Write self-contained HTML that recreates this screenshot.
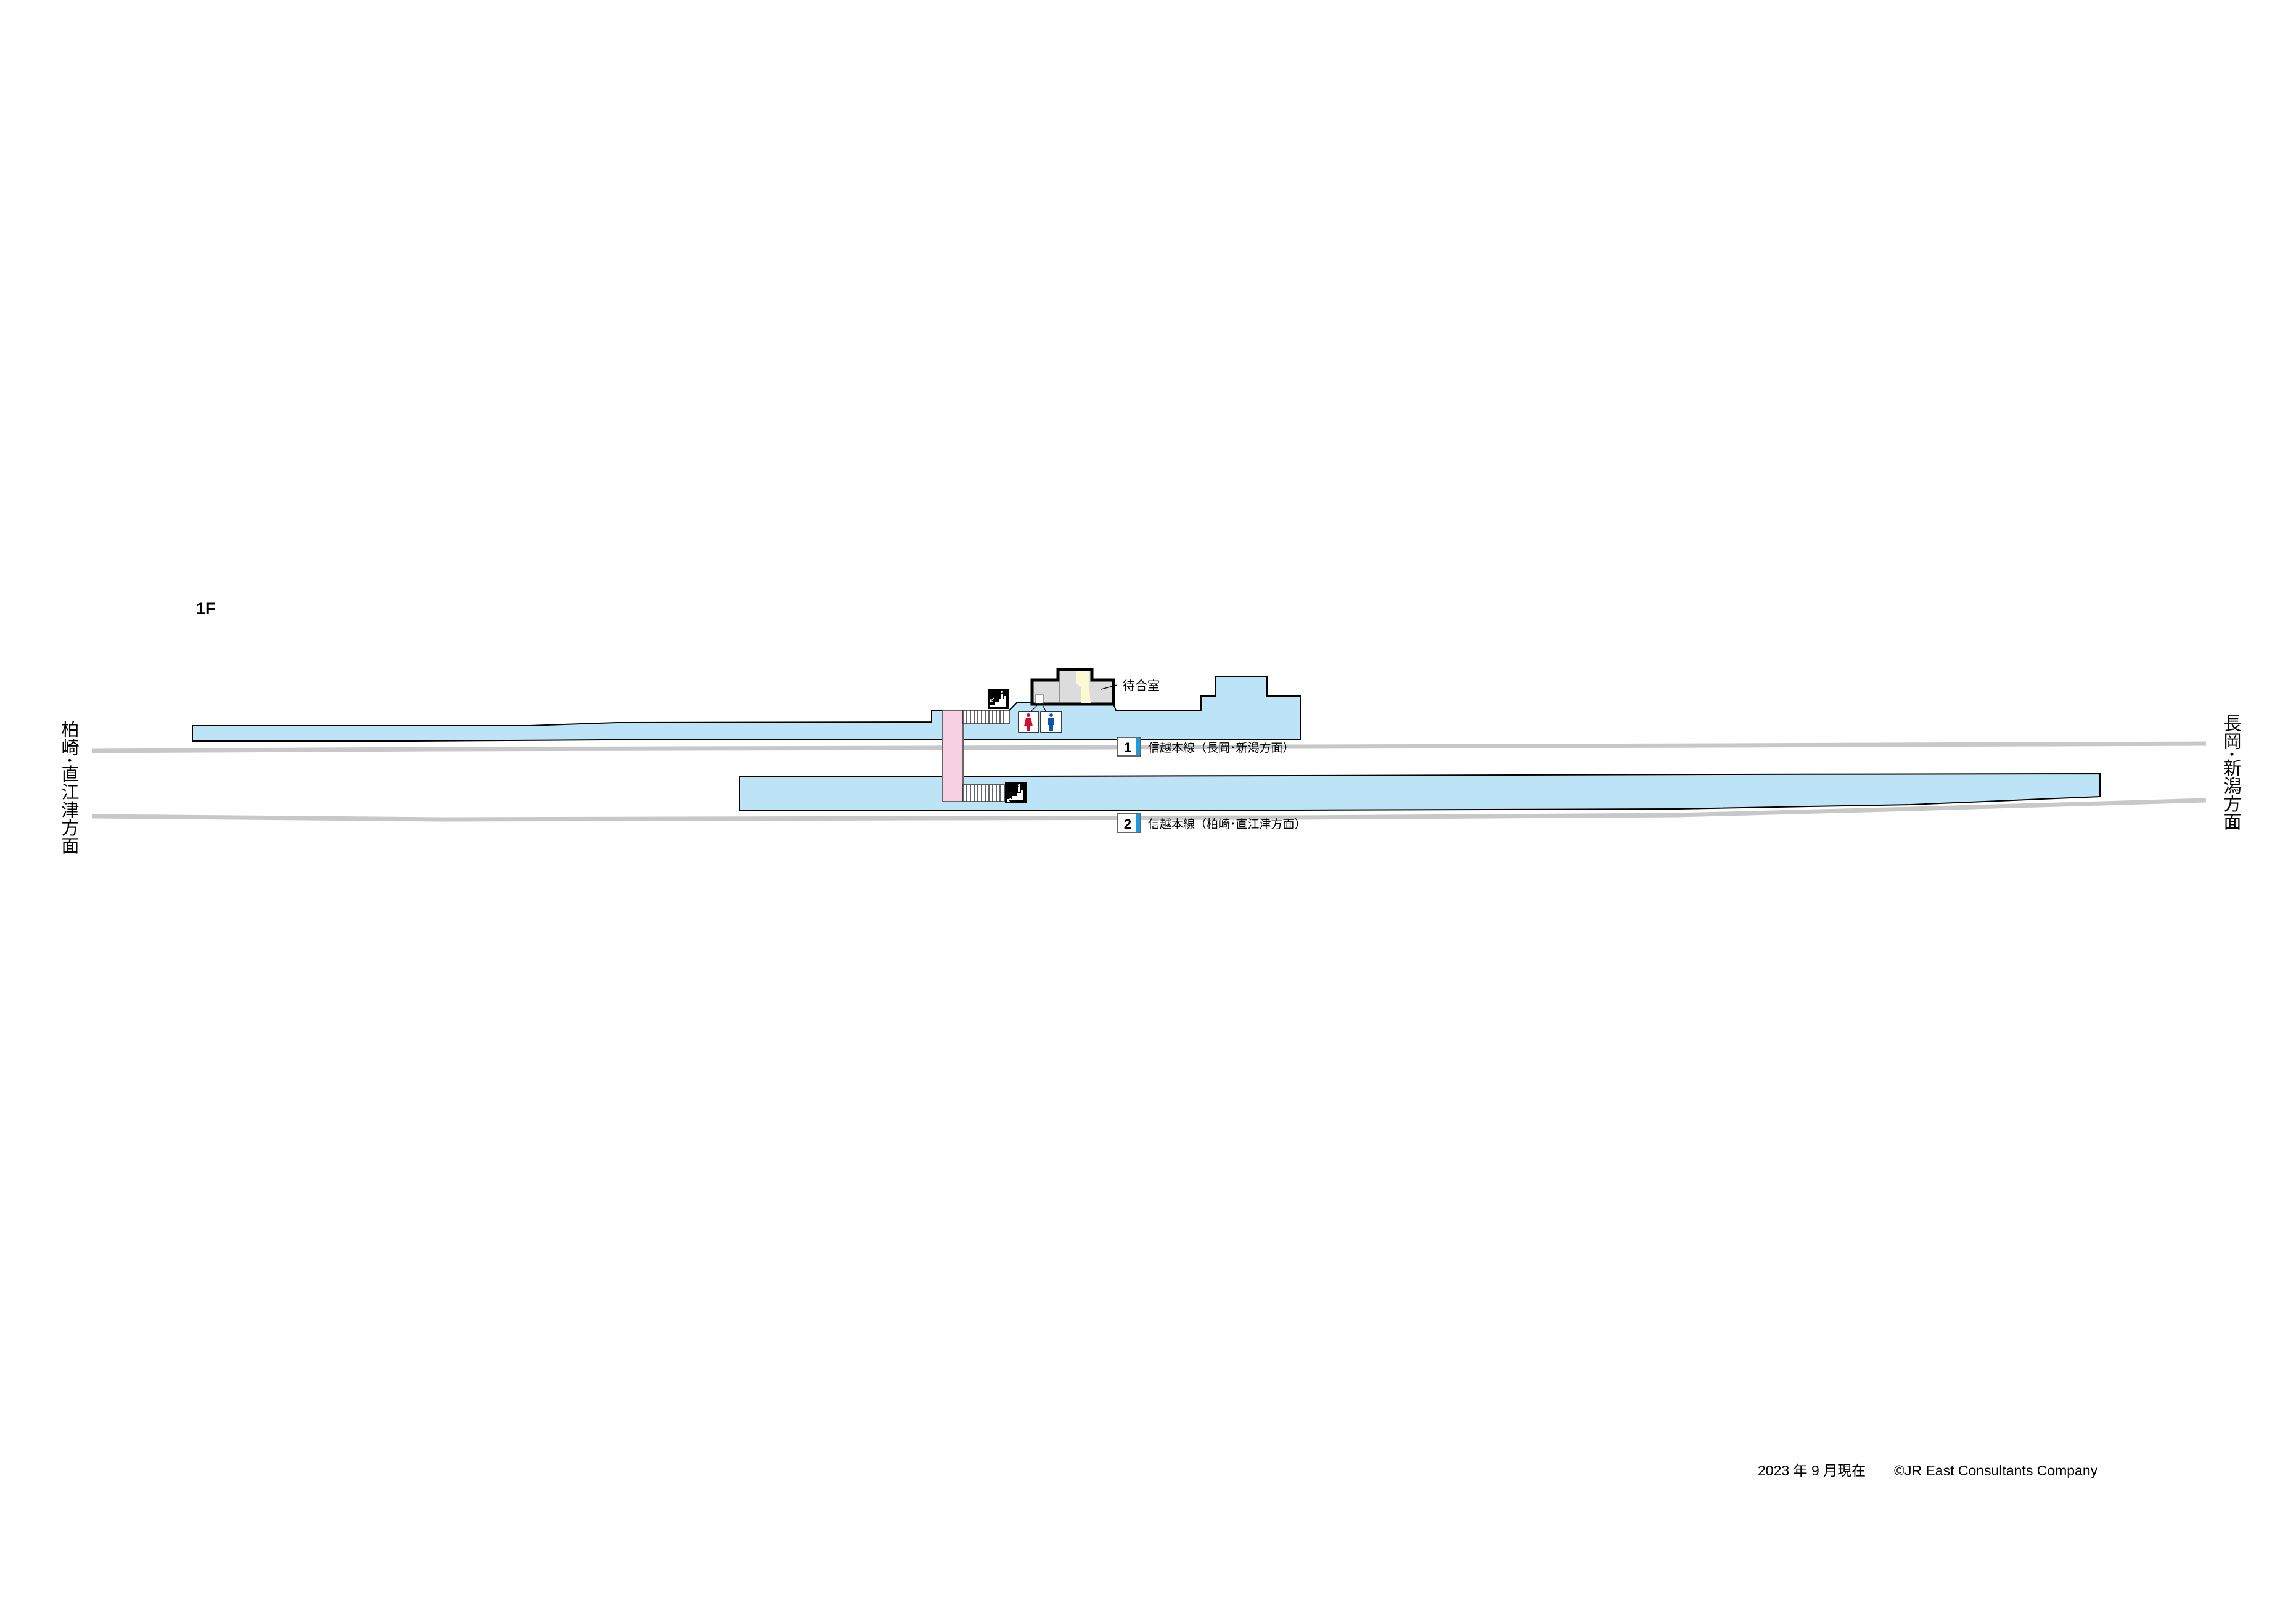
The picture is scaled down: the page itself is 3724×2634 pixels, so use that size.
<!DOCTYPE html>
<html><head><meta charset="utf-8"><style>
html,body{margin:0;padding:0;background:#fff;}
svg{display:block;}
text{font-family:"Liberation Sans","Noto Sans CJK JP",sans-serif;}
</style></head><body>
<svg width="3724" height="2634" viewBox="0 0 3724 2634" xmlns="http://www.w3.org/2000/svg">
<rect width="3724" height="2634" fill="#fff"/>
<!-- tracks -->
<polyline points="149,1218 700,1215 1500,1213 2100,1211 2800,1209 3578,1206" fill="none" stroke="#c8c8c8" stroke-width="7"/>
<polyline points="149,1324 717,1329 1500,1327 2100,1326 2721,1322 3100,1312 3578,1298" fill="none" stroke="#c8c8c8" stroke-width="7"/>
<!-- platform 1 -->
<path d="M312,1177 L859,1177 L1000,1172 L1511,1171 L1511,1152 L1637,1152 L1650,1139 L1806,1142 L1810,1152 L1948,1152 L1948,1129 L1972,1129 L1972,1097 L2055,1097 L2055,1129 L2109,1129 L2109,1199 L1500,1200 L984,1200 L671,1202 L312,1202 Z" fill="#bde3f7" stroke="#000" stroke-width="2"/>
<!-- platform 2 -->
<path d="M1200,1260 L2100,1258 L2800,1256 L3406,1255 L3406,1292 L3100,1305 L2721,1312 L2100,1314 L1200,1315 Z" fill="#bde3f7" stroke="#000" stroke-width="2"/>
<!-- bridge -->
<rect x="1529" y="1152" width="33" height="148" fill="#f8d0e3" stroke="#666" stroke-width="2"/>
<!-- stairs -->
<g stroke="#333" stroke-width="1.5" fill="#fff">
<rect x="1562" y="1152" width="75" height="22"/>
<path d="M1568,1152v22M1574,1152v22M1580,1152v22M1586,1152v22M1592,1152v22M1598,1152v22M1604,1152v22M1610,1152v22M1616,1152v22M1622,1152v22M1628,1152v22"/>
<rect x="1562" y="1273" width="67" height="27"/>
<path d="M1568,1273v27M1574,1273v27M1580,1273v27M1586,1273v27M1592,1273v27M1598,1273v27M1604,1273v27M1610,1273v27M1616,1273v27M1622,1273v27"/>
</g>
<!-- stair icons -->
<g>
<rect x="1602" y="1117" width="34" height="33" fill="#000"/>
<path d="M1606,1144 h8 v-5 h7 v-5 h7 v-5 h4 v17 h-26z" fill="#fff"/>
<circle cx="1625" cy="1122" r="2" fill="#fff"/>
<path d="M1623,1125 h4 v8 h-4z" fill="#fff"/>
<path d="M1606,1138 l6,-6 M1606,1138 v-4 M1606,1138 h4" stroke="#fff" stroke-width="1.5"/>
<rect x="1630" y="1269" width="35" height="33" fill="#000"/>
<path d="M1634,1296 h8 v-5 h7 v-5 h7 v-5 h4 v17 h-26z" fill="#fff"/>
<circle cx="1653" cy="1274" r="2" fill="#fff"/>
<path d="M1651,1277 h4 v8 h-4z" fill="#fff"/>
<path d="M1634,1300 l6,-6 M1634,1300 v-4 M1634,1300 h4" stroke="#fff" stroke-width="1.5"/>
</g>
<!-- building -->
<path d="M1674,1142 L1674,1103 L1716,1103 L1716,1086 L1771,1086 L1771,1103 L1806,1103 L1806,1142 Z" fill="#dcdcdc" stroke="#000" stroke-width="5"/>
<path d="M1745,1088 L1766,1088 L1766,1110 L1769,1140 L1754,1140 L1754,1115 L1745,1108 Z" fill="#fdf8d4"/>
<path d="M1718,1105 V1140" stroke="#777" stroke-width="1.5"/>
<rect x="1680" y="1127" width="12" height="14" fill="#fff" stroke="#555" stroke-width="1"/>
<path d="M1686,1140 L1671,1155 M1689,1140 L1697,1155 M1786,1118 L1812,1111" stroke="#000" stroke-width="1.2" fill="none"/>
<!-- toilet -->
<rect x="1652" y="1154" width="33" height="34" fill="#fff" stroke="#000" stroke-width="1.5"/>
<rect x="1688" y="1154" width="34" height="34" fill="#fff" stroke="#000" stroke-width="1.5"/>
<circle cx="1668" cy="1160" r="3" fill="#d0102a"/>
<path d="M1664,1164 h8 l3,14 h-4 v7 h-6 v-7 h-4z" fill="#d0102a"/>
<circle cx="1705" cy="1160" r="3" fill="#0a56b0"/>
<path d="M1700,1164 h10 v12 h-2 v9 h-6 v-9 h-2z" fill="#0a56b0"/>
<text x="1821" y="1119" font-size="20">待合室</text>
<!-- track labels -->
<rect x="1812" y="1196" width="38" height="30" fill="#fff" stroke="#333" stroke-width="1.5"/>
<rect x="1842" y="1197" width="7" height="28" fill="#1a9be0"/>
<text x="1829" y="1220" font-size="22" font-weight="bold" text-anchor="middle">1</text>
<text x="1862" y="1219" font-size="19">信越本線（長岡･新潟方面）</text>
<rect x="1812" y="1320" width="38" height="30" fill="#fff" stroke="#333" stroke-width="1.5"/>
<rect x="1842" y="1321" width="7" height="28" fill="#1a9be0"/>
<text x="1829" y="1344" font-size="22" font-weight="bold" text-anchor="middle">2</text>
<text x="1862" y="1343" font-size="19">信越本線（柏崎･直江津方面）</text>
<!-- direction labels -->
<text x="111" y="1168" font-size="29" style="writing-mode:vertical-rl">柏崎･直江津方面</text>
<text x="3636" y="1158" font-size="29" style="writing-mode:vertical-rl" transform="translate(-18,0)">長岡･新潟方面</text>
<text x="318" y="996" font-size="27" font-weight="bold">1F</text>
<text x="2851" y="2393" font-size="23">2023 年 9 月現在</text>
<text x="3072" y="2393" font-size="23">©JR East Consultants Company</text>
</svg>
</body></html>
